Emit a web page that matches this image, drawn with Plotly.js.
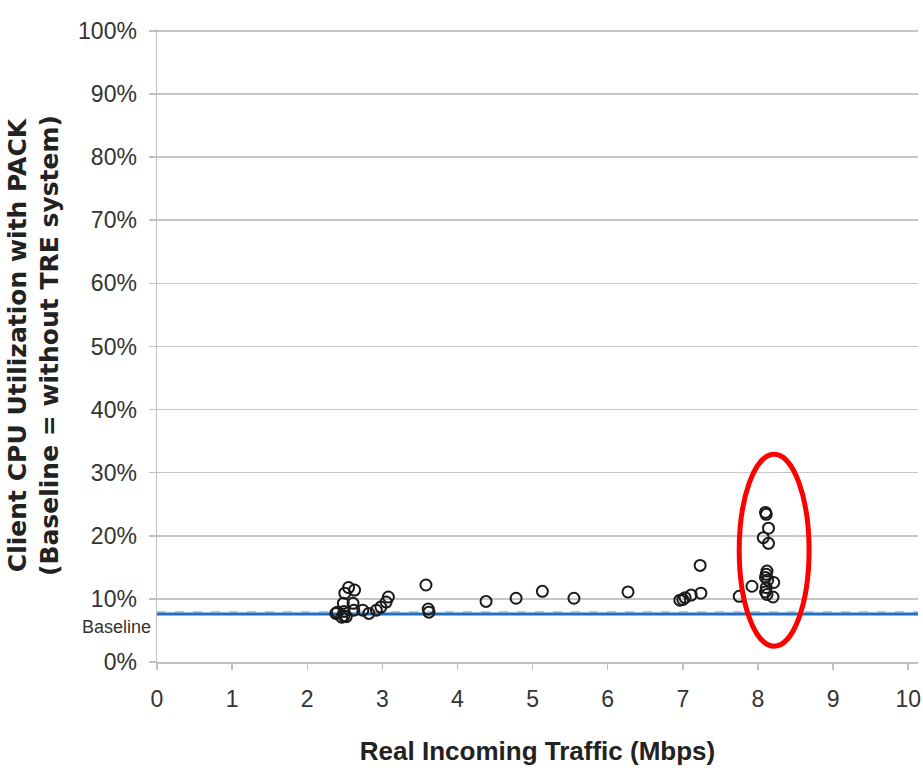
<!DOCTYPE html>
<html>
<head>
<meta charset="utf-8">
<script src="https://cdn.plot.ly/plotly-3.0.1.min.js"></script>
<style>html,body{margin:0;padding:0;background:#fff;overflow:hidden;}</style>
</head>
<body>
<div id="chart" style="width:923px;height:768px;"></div>
<script>
// Measured samples: traffic (Mbps) and client CPU utilization (%)
const trafficMbps = [
  2.38, 2.40, 2.46, 2.49, 2.49, 2.52, 2.48, 2.61, 2.62, 2.55, 2.50, 2.63,
  2.74, 2.82, 2.92, 2.98, 3.05, 3.08,
  3.58, 3.61, 3.62,
  4.38, 4.78, 5.13, 5.55, 6.27, 6.96,
  7.00, 7.03, 7.11, 7.24, 7.23, 7.75, 7.92,
  8.10, 8.11, 8.14, 8.07, 8.14,
  8.12, 8.11, 8.10, 8.13, 8.21, 8.11, 8.10, 8.12, 8.20
];
const cpuUtilPct = [
  7.7, 7.9, 7.1, 7.3, 8.0, 7.2, 9.3, 9.3, 8.2, 11.8, 10.9, 11.4,
  8.2, 7.7, 8.2, 8.7, 9.5, 10.3,
  12.2, 8.4, 7.9,
  9.6, 10.1, 11.2, 10.1, 11.1, 9.8,
  9.9, 10.2, 10.6, 10.9, 15.3, 10.4, 12.0,
  23.7, 23.4, 21.2, 19.7, 18.8,
  14.4, 13.9, 13.4, 13.0, 12.6, 11.8, 11.1, 10.7, 10.3
];
const baselinePct = 7.6;
const baselineDashPct = 7.95;
const baselineX = [0, 10.13];
const yTickVals = [0, 10, 20, 30, 40, 50, 60, 70, 80, 90, 100];
const yTickText = ['0%', '10%', '20%', '30%', '40%', '50%', '60%', '70%', '80%', '90%', '100%'];
const xTickVals = [0, 1, 2, 3, 4, 5, 6, 7, 8, 9, 10];
// highlighted region (ellipse) in data units
const highlightX = [7.75, 8.68];
const highlightY = [2.5, 32.9];

const sans = "'Liberation Sans', Arial, sans-serif";

const traces = [
  {
    x: baselineX, y: baselineX.map(() => baselineDashPct),
    mode: 'lines', line: {color: '#a9cbea', width: 1.5, dash: 'dash'},
    hoverinfo: 'skip', showlegend: false
  },
  {
    x: baselineX, y: baselineX.map(() => baselinePct),
    mode: 'lines', line: {color: '#1f70c1', width: 3},
    hoverinfo: 'skip', showlegend: false
  },
  {
    x: trafficMbps, y: cpuUtilPct, mode: 'markers', type: 'scatter',
    marker: {symbol: 'circle-open', size: 11, color: '#1a1a1a', line: {width: 2}},
    showlegend: false
  }
];

const layout = {
  width: 923, height: 768,
  margin: {l: 157, r: 5, t: 29, b: 106},
  paper_bgcolor: '#ffffff', plot_bgcolor: '#ffffff',
  font: {family: sans, color: '#333333'},
  xaxis: {
    range: [0, 10.13], tickvals: xTickVals,
    showgrid: false, zeroline: false,
    showline: true, linecolor: '#bfbfbf', linewidth: 1.5,
    ticks: 'outside', ticklen: 6, tickcolor: '#bfbfbf', tickwidth: 1.5,
    tickfont: {family: sans, size: 23, color: '#333333'},
    ticklabelstandoff: 10,
    title: {text: 'Real Incoming Traffic (Mbps)', standoff: 30,
            font: {family: sans, size: 26, color: '#222222', weight: 'bold'}}
  },
  yaxis: {
    range: [0, 100.3], tickvals: yTickVals, ticktext: yTickText,
    showgrid: true, gridcolor: '#c6c6c6', gridwidth: 1.5, zeroline: false,
    showline: true, linecolor: '#bfbfbf', linewidth: 1.5,
    ticks: 'outside', ticklen: 7, tickcolor: '#bfbfbf', tickwidth: 1.5,
    tickfont: {family: sans, size: 23, color: '#333333'},
    ticklabelstandoff: 7,
    title: {text: 'Client CPU Utilization with PACK<br>(Baseline = without TRE system)', standoff: 12,
            font: {family: "'DejaVu Sans', sans-serif", size: 25, color: '#222222', weight: 'bold'}}
  },
  shapes: [
    {type: 'circle', xref: 'x', yref: 'y',
     x0: highlightX[0], x1: highlightX[1], y0: highlightY[0], y1: highlightY[1],
     line: {color: '#ff0000', width: 5}}
  ],
  annotations: [
    {text: 'Baseline', xref: 'paper', yref: 'y', x: 0, y: 5.5,
     xanchor: 'right', yanchor: 'middle', xshift: -4, showarrow: false,
     font: {family: sans, size: 18, color: '#333333'}}
  ]
};

Plotly.newPlot('chart', traces, layout, {displayModeBar: false, staticPlot: true});
</script>
</body>
</html>
